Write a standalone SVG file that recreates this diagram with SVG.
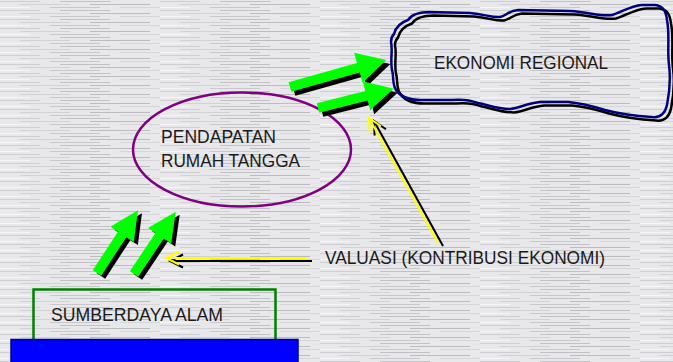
<svg xmlns="http://www.w3.org/2000/svg" xmlns:xlink="http://www.w3.org/1999/xlink" width="673" height="362" viewBox="0 0 673 362">
<style>
.txt{font-family:"Liberation Sans",Arial,sans-serif;font-size:19px;fill:#1a1a1a;}
.grn{fill:#00ff00;}
.shd{fill:#000000;}
.ly{fill:none;stroke:#ffff00;stroke-width:2;}
.lb{fill:none;stroke:#000000;stroke-width:2;}
</style>
<defs>
<pattern id="bg" width="160" height="9" patternUnits="userSpaceOnUse">
<rect width="160" height="9" fill="#e8e8ea"/>
<line x1="0" y1="1.5" x2="40" y2="1.5" stroke="#cfcfd3" stroke-width="1"/>
<line x1="60" y1="1.5" x2="110" y2="1.5" stroke="#c2c2c6" stroke-width="1"/>
<line x1="20" y1="4.5" x2="70" y2="4.5" stroke="#d2d2d6" stroke-width="1"/>
<line x1="90" y1="4.5" x2="150" y2="4.5" stroke="#bcbcc0" stroke-width="1"/>
<line x1="0" y1="7.5" x2="30" y2="7.5" stroke="#f6f6f8" stroke-width="1"/>
<line x1="50" y1="7.5" x2="100" y2="7.5" stroke="#c8c8cc" stroke-width="1"/>
<line x1="120" y1="7.5" x2="160" y2="7.5" stroke="#d6d6da" stroke-width="1"/>
</pattern>
<path id="cloud" d="M394,34 C396,26 402,22 408,20 C412,14 420,12 430,12 L470,13 C485,14 492,18 500,17 C506,16 508,11 518,10 L570,11 C590,12 600,17 612,15 C622,12 630,6 642,5 L655,5 C664,6 666,12 667,20 C670,35 667,50 669,65 C671,80 669,95 667,105 C665,114 660,118 652,117 C635,116 620,114 605,110 C592,106 582,103 568,102 L540,102 C528,103 520,108 510,109 C498,109 488,105 478,103 C470,100 462,99 452,100 L420,100 C408,100 400,96 396,90 C392,84 394,76 392,70 C390,60 393,50 391,42 C391,38 392,36 394,34 Z"/>
<path id="a100" d="M0,-5 L71,-5 L71,-15.5 L100,0 L71,15.5 L71,5 L0,5 Z"/>
<path id="a78" d="M0,-5 L50,-5 L50,-15 L78,0 L50,15 L50,5 L0,5 Z"/>
<path id="a75" d="M0,-5 L46,-5 L46,-14 L75,0 L46,14 L46,5 L0,5 Z"/>
<marker id="my" viewBox="-16 -9 20 18" markerWidth="20" markerHeight="18" refX="0" refY="0" orient="auto" markerUnits="userSpaceOnUse">
<path d="M-13,-6.5 L0,0 L-13,6.5" fill="none" stroke="#ffff00" stroke-width="2"/>
</marker>
<marker id="mb" viewBox="-16 -9 20 18" markerWidth="20" markerHeight="18" refX="0" refY="0" orient="auto" markerUnits="userSpaceOnUse">
<path d="M-13,-6.5 L0,0 L-13,6.5" fill="none" stroke="#000000" stroke-width="2"/>
</marker>
</defs>
<rect width="673" height="362" fill="url(#bg)"/>

<g id="node-ekonomi-regional">
<use xlink:href="#cloud" transform="translate(4,3.5)" fill="none" stroke="#000000" stroke-width="2.5"/>
<use xlink:href="#cloud" fill="none" stroke="#000080" stroke-width="2.5"/>
<text class="txt" x="434" y="69" textLength="174" lengthAdjust="spacingAndGlyphs">EKONOMI REGIONAL</text>
</g>

<g id="node-pendapatan">
<ellipse cx="242" cy="149.5" rx="109" ry="57" fill="none" stroke="#800080" stroke-width="2.5"/>
<text class="txt" x="161" y="143" textLength="115" lengthAdjust="spacingAndGlyphs">PENDAPATAN</text>
<text class="txt" x="161" y="166.5" textLength="139" lengthAdjust="spacingAndGlyphs">RUMAH TANGGA</text>
</g>

<g id="node-sumberdaya">
<rect x="33.5" y="289.5" width="242" height="60" fill="none" stroke="#008000" stroke-width="2.5"/>
<rect x="11" y="339.5" width="287" height="30" fill="#0000ff" stroke="#000080" stroke-width="1.5"/>
<text class="txt" x="51" y="320.5" textLength="172" lengthAdjust="spacingAndGlyphs">SUMBERDAYA ALAM</text>
</g>

<g id="node-valuasi">
<text class="txt" x="325" y="264" textLength="280" lengthAdjust="spacingAndGlyphs">VALUASI (KONTRIBUSI EKONOMI)</text>
</g>

<g id="connectors">
<use xlink:href="#a100" class="shd" transform="translate(294,91) rotate(-15.7)"/>
<use xlink:href="#a100" class="grn" transform="translate(290,87) rotate(-15.7)"/>
<use xlink:href="#a78" class="shd" transform="translate(322,112) rotate(-14.2)"/>
<use xlink:href="#a78" class="grn" transform="translate(318,108) rotate(-14.2)"/>
<use xlink:href="#a75" class="shd" transform="translate(101,276) rotate(-56.9)"/>
<use xlink:href="#a75" class="grn" transform="translate(97,273) rotate(-56.9)"/>
<use xlink:href="#a75" class="shd" transform="translate(138,277) rotate(-56.2)"/>
<use xlink:href="#a75" class="grn" transform="translate(134,274) rotate(-56.2)"/>
<line class="lb" x1="312" y1="261" x2="170" y2="261" marker-end="url(#mb)"/>
<line class="ly" x1="307" y1="258" x2="166" y2="258" marker-end="url(#my)"/>
<line class="lb" x1="443" y1="246" x2="374" y2="121" marker-end="url(#mb)"/>
<line class="ly" x1="438" y1="243" x2="369" y2="118" marker-end="url(#my)"/>
</g>
</svg>
